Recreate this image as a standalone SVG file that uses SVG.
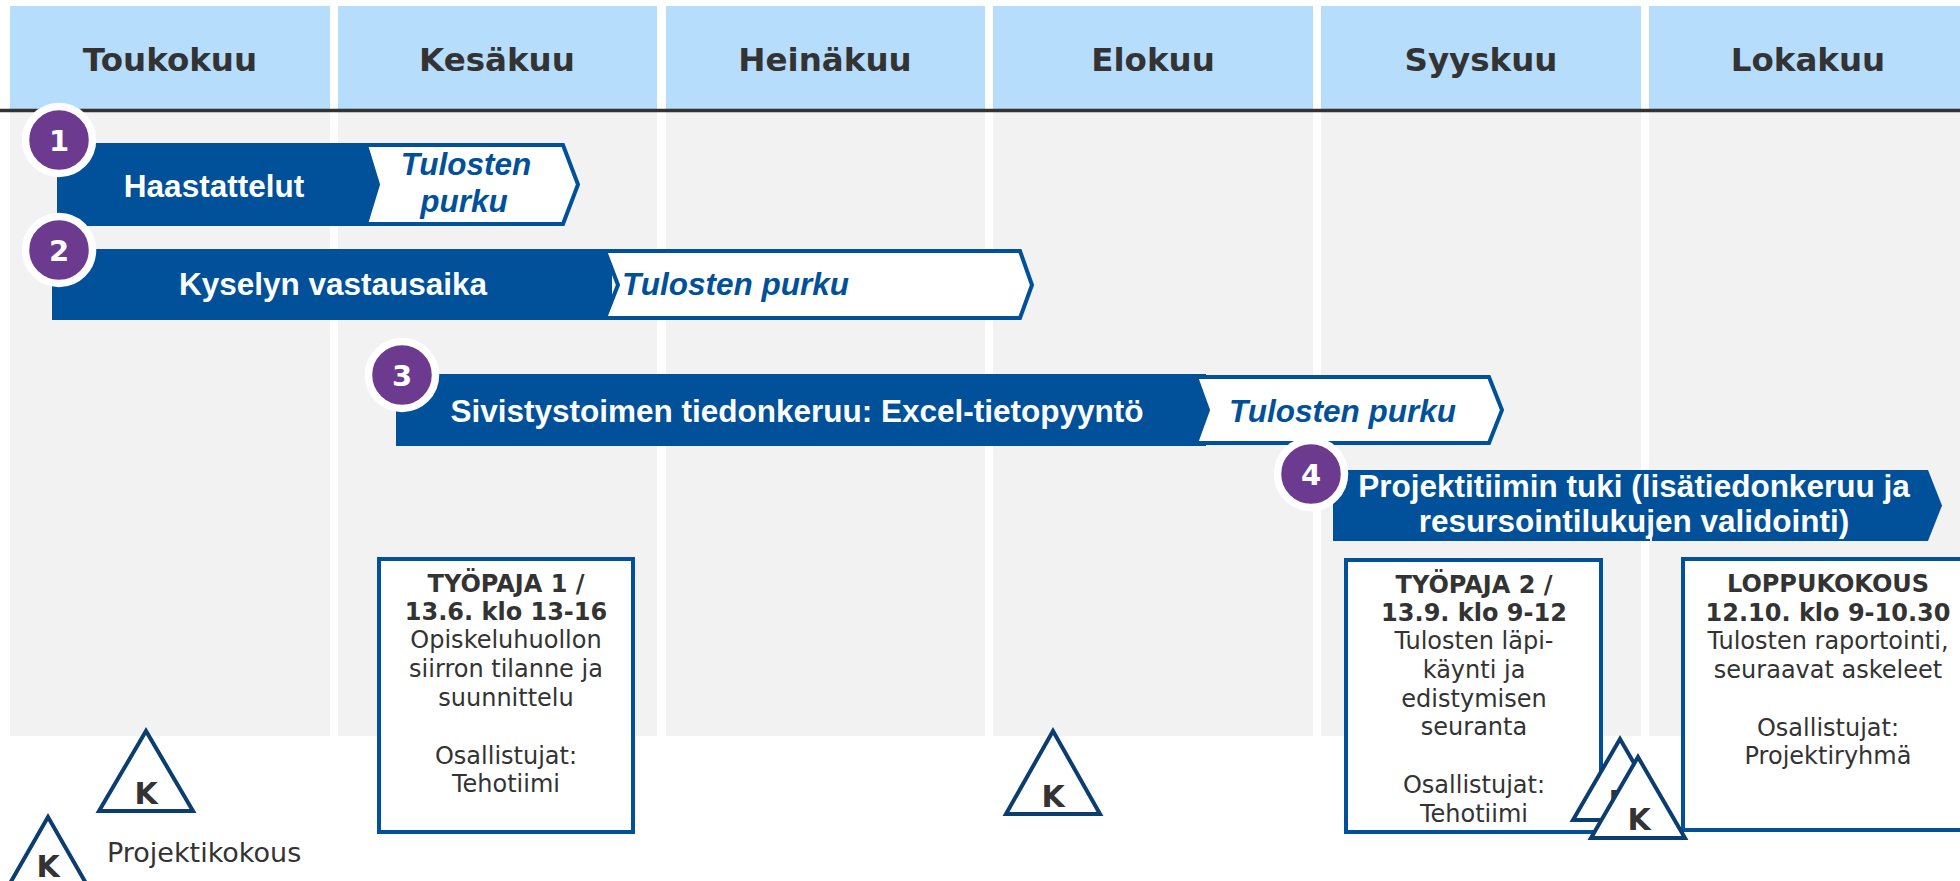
<svg xmlns="http://www.w3.org/2000/svg" width="1960" height="881" viewBox="0 0 1960 881">
<style>
.hdr{fill:#B7DDFD}
.col{fill:#F2F2F2}
.htxt{font-family:"DejaVu Sans",Verdana,sans-serif;font-weight:bold;font-size:32.5px;fill:#333333;text-anchor:middle}
.bar{fill:#00519A}
.chev{fill:#FFFFFF;stroke:#00519A;stroke-width:4;stroke-linejoin:miter}
.btxt{font-family:"Liberation Sans",Arial,sans-serif;font-weight:bold;font-size:31.5px;fill:#FFFFFF;text-anchor:middle}
.itxt{font-family:"Liberation Sans",Arial,sans-serif;font-weight:bold;font-style:italic;font-size:31.5px;fill:#00519A}
.num{fill:#6C3A8E;stroke:#FFFFFF;stroke-width:7.5}
.ntxt{font-family:"DejaVu Sans",Verdana,sans-serif;font-weight:bold;font-size:29px;fill:#FFFFFF;text-anchor:middle}
.box{fill:#FFFFFF;stroke:#00519A;stroke-width:4}
.tb{font-family:"DejaVu Sans",Verdana,sans-serif;font-weight:bold;font-size:24px;fill:#333333;text-anchor:middle}
.tr{font-family:"DejaVu Sans",Verdana,sans-serif;font-size:24px;fill:#333333;text-anchor:middle}
.tri{fill:#FFFFFF;stroke:#0B3D6F;stroke-width:4;stroke-linejoin:miter}
.ktxt{font-family:"DejaVu Sans",Verdana,sans-serif;font-weight:bold;font-size:30px;fill:#333333;text-anchor:middle}
</style>
<rect width="1960" height="881" fill="#FFFFFF"/>
<g id="columns">
<rect class="col" x="10" y="112" width="320" height="624"/>
<rect class="col" x="338" y="112" width="319" height="624"/>
<rect class="col" x="666" y="112" width="319" height="624"/>
<rect class="col" x="993" y="112" width="320" height="624"/>
<rect class="col" x="1321" y="112" width="320" height="624"/>
<rect class="col" x="1649" y="112" width="311" height="624"/>
</g>
<g id="header">
<rect class="hdr" x="10" y="6" width="320" height="104"/>
<rect class="hdr" x="338" y="6" width="319" height="104"/>
<rect class="hdr" x="666" y="6" width="319" height="104"/>
<rect class="hdr" x="993" y="6" width="320" height="104"/>
<rect class="hdr" x="1321" y="6" width="320" height="104"/>
<rect class="hdr" x="1649" y="6" width="311" height="104"/>
<text class="htxt" x="170" y="71">Toukokuu</text>
<text class="htxt" x="497" y="71">Kesäkuu</text>
<text class="htxt" x="825" y="71">Heinäkuu</text>
<text class="htxt" x="1153" y="71">Elokuu</text>
<text class="htxt" x="1481" y="71">Syyskuu</text>
<text class="htxt" x="1808" y="71">Lokakuu</text>
<line x1="0" y1="110.5" x2="1960" y2="110.5" stroke="#333333" stroke-width="3.5"/>
</g>
<g id="connectors"></g>
<g id="bar1">
<rect class="bar" x="57" y="143" width="320" height="83"/>
<polygon class="chev" points="366,145 563,145 578,184.5 563,224 366,224 378,184.5"/>
<text class="btxt" x="214" y="197">Haastattelut</text>
<text class="itxt" x="466" y="175" text-anchor="middle">Tulosten</text>
<text class="itxt" x="464" y="212" text-anchor="middle">purku</text>
</g>
<g id="bar2">
<rect class="bar" x="52" y="249" width="560" height="71"/>
<polygon class="chev" points="605,251 1020,251 1032,285 1020,318 605,318 618,285"/>
<text class="btxt" x="333" y="295">Kyselyn vastausaika</text>
<text class="itxt" x="622" y="295">Tulosten purku</text>
</g>
<g id="bar3">
<rect class="bar" x="396" y="374" width="810" height="72"/>
<polygon class="chev" points="1196,377 1489,377 1502,410 1489,443 1196,443 1208,410"/>
<text class="btxt" x="797" y="422">Sivistystoimen tiedonkeruu: Excel-tietopyyntö</text>
<text class="itxt" x="1229" y="422">Tulosten purku</text>
</g>
<g id="bar4">
<polygon class="bar" points="1333,470 1928,470 1942,505.5 1928,541 1333,541"/>
<text class="btxt" x="1634" y="497">Projektitiimin tuki (lisätiedonkeruu ja</text>
<text class="btxt" x="1634" y="532">resursointilukujen validointi)</text>
<line x1="1651" y1="521" x2="1651" y2="541" stroke="#F2F2F2" stroke-width="2"/>
</g>
<g id="num1"><circle class="num" cx="59" cy="140" r="33.5"/><text class="ntxt" x="59" y="150.5">1</text></g>
<g id="num2"><circle class="num" cx="59" cy="250" r="33.5"/><text class="ntxt" x="59" y="260.5">2</text></g>
<g id="num3"><circle class="num" cx="402" cy="375" r="33.5"/><text class="ntxt" x="402" y="385.5">3</text></g>
<g id="num4"><circle class="num" cx="1311" cy="474" r="33.5"/><text class="ntxt" x="1311" y="484.5">4</text></g>
<g id="tyopaja1">
<rect class="box" x="379" y="559" width="254" height="273"/>
<text class="tb" x="506" y="592">TYÖPAJA 1 /</text>
<text class="tb" x="506" y="620">13.6. klo 13-16</text>
<text class="tr" x="506" y="648">Opiskeluhuollon</text>
<text class="tr" x="506" y="677">siirron tilanne ja</text>
<text class="tr" x="506" y="706">suunnittelu</text>
<text class="tr" x="506" y="764">Osallistujat:</text>
<text class="tr" x="506" y="792">Tehotiimi</text>
</g>
<g id="tyopaja2">
<rect class="box" x="1346" y="560" width="255" height="272" stroke-width="5.5"/>
<text class="tb" x="1474" y="593">TYÖPAJA 2 /</text>
<text class="tb" x="1474" y="621">13.9. klo 9-12</text>
<text class="tr" x="1474" y="649">Tulosten läpi-</text>
<text class="tr" x="1474" y="678">käynti ja</text>
<text class="tr" x="1474" y="707">edistymisen</text>
<text class="tr" x="1474" y="735">seuranta</text>
<text class="tr" x="1474" y="793">Osallistujat:</text>
<text class="tr" x="1474" y="822">Tehotiimi</text>
</g>
<g id="loppukokous">
<rect class="box" x="1683" y="559" width="300" height="271"/>
<text class="tb" x="1828" y="592">LOPPUKOKOUS</text>
<text class="tb" x="1828" y="621">12.10. klo 9-10.30</text>
<text class="tr" x="1828" y="649">Tulosten raportointi,</text>
<text class="tr" x="1828" y="678">seuraavat askeleet</text>
<text class="tr" x="1828" y="736">Osallistujat:</text>
<text class="tr" x="1828" y="764">Projektiryhmä</text>
</g>
<g id="k-toukokuu"><polygon class="tri" points="146,731 99,811 193,811"/><text class="ktxt" x="146" y="804">K</text></g>
<g id="k-elokuu"><polygon class="tri" points="1053,731 1006,814 1100,814"/><text class="ktxt" x="1053" y="807">K</text></g>
<g id="k-syyskuu-1"><polygon class="tri" points="1620,739 1573,820 1667,820"/><text class="ktxt" x="1620" y="812">K</text></g>
<g id="k-syyskuu-2"><polygon class="tri" points="1638,757 1591,838 1685,838"/><text class="ktxt" x="1639" y="830">K</text></g>
<g id="legend">
<polygon class="tri" points="48,817 1,899 95,899"/>
<text class="ktxt" x="48" y="877">K</text>
<text x="107" y="862" font-family="DejaVu Sans, Verdana, sans-serif" font-size="27" fill="#333333">Projektikokous</text>
</g>
</svg>
